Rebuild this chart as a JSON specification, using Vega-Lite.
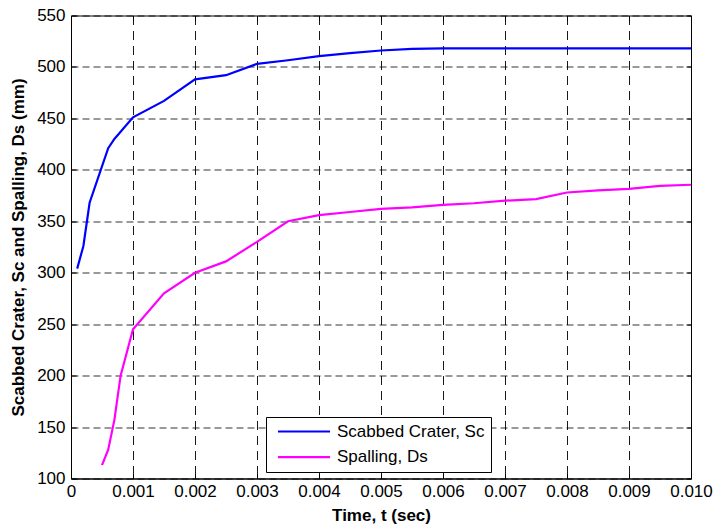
{
  "$schema": "https://vega.github.io/schema/vega-lite/v6.json",
  "width": 620,
  "height": 463,
  "autosize": {"type": "none"},
  "padding": {"left": 71, "top": 15.5, "right": 24, "bottom": 49.5},
  "background": "white",
  "config": {
    "font": "Liberation Sans",
    "view": {"stroke": "#000000", "strokeWidth": 1},
    "axis": {
      "labelFont": "Liberation Sans",
      "labelFontSize": 17,
      "labelColor": "#000000",
      "titleFont": "Liberation Sans",
      "titleFontSize": 17,
      "titleFontWeight": "bold",
      "titleColor": "#000000",
      "domainColor": "#000000",
      "tickColor": "#000000",
      "tickSize": -5,
      "gridColor": "#000000",
      "gridOpacity": 0.8
    },
    "legend": {
      "labelFont": "Liberation Sans",
      "labelFontSize": 17,
      "labelColor": "#000000"
    }
  },
  "data": {
    "values": [
      {"t": 0.0001, "d": 304, "series": "Scabbed Crater, Sc"},
      {"t": 0.0002, "d": 326, "series": "Scabbed Crater, Sc"},
      {"t": 0.0003, "d": 368, "series": "Scabbed Crater, Sc"},
      {"t": 0.0006, "d": 421, "series": "Scabbed Crater, Sc"},
      {"t": 0.0007, "d": 430, "series": "Scabbed Crater, Sc"},
      {"t": 0.001, "d": 451, "series": "Scabbed Crater, Sc"},
      {"t": 0.0015, "d": 467, "series": "Scabbed Crater, Sc"},
      {"t": 0.002, "d": 488, "series": "Scabbed Crater, Sc"},
      {"t": 0.0025, "d": 492, "series": "Scabbed Crater, Sc"},
      {"t": 0.003, "d": 503, "series": "Scabbed Crater, Sc"},
      {"t": 0.0035, "d": 506.5, "series": "Scabbed Crater, Sc"},
      {"t": 0.004, "d": 510.5, "series": "Scabbed Crater, Sc"},
      {"t": 0.0045, "d": 513.5, "series": "Scabbed Crater, Sc"},
      {"t": 0.005, "d": 516, "series": "Scabbed Crater, Sc"},
      {"t": 0.0055, "d": 517.5, "series": "Scabbed Crater, Sc"},
      {"t": 0.006, "d": 518, "series": "Scabbed Crater, Sc"},
      {"t": 0.007, "d": 518, "series": "Scabbed Crater, Sc"},
      {"t": 0.008, "d": 518, "series": "Scabbed Crater, Sc"},
      {"t": 0.009, "d": 518, "series": "Scabbed Crater, Sc"},
      {"t": 0.01, "d": 518, "series": "Scabbed Crater, Sc"},
      {"t": 0.0005, "d": 113, "series": "Spalling, Ds"},
      {"t": 0.0006, "d": 128, "series": "Spalling, Ds"},
      {"t": 0.0007, "d": 157, "series": "Spalling, Ds"},
      {"t": 0.0008, "d": 200, "series": "Spalling, Ds"},
      {"t": 0.001, "d": 245, "series": "Spalling, Ds"},
      {"t": 0.0015, "d": 280, "series": "Spalling, Ds"},
      {"t": 0.002, "d": 300, "series": "Spalling, Ds"},
      {"t": 0.0025, "d": 311, "series": "Spalling, Ds"},
      {"t": 0.003, "d": 330, "series": "Spalling, Ds"},
      {"t": 0.0035, "d": 350, "series": "Spalling, Ds"},
      {"t": 0.004, "d": 356, "series": "Spalling, Ds"},
      {"t": 0.0045, "d": 359, "series": "Spalling, Ds"},
      {"t": 0.005, "d": 362, "series": "Spalling, Ds"},
      {"t": 0.0055, "d": 363.5, "series": "Spalling, Ds"},
      {"t": 0.006, "d": 366, "series": "Spalling, Ds"},
      {"t": 0.0065, "d": 367.5, "series": "Spalling, Ds"},
      {"t": 0.007, "d": 370, "series": "Spalling, Ds"},
      {"t": 0.0075, "d": 371.5, "series": "Spalling, Ds"},
      {"t": 0.008, "d": 378, "series": "Spalling, Ds"},
      {"t": 0.0085, "d": 380, "series": "Spalling, Ds"},
      {"t": 0.009, "d": 381.5, "series": "Spalling, Ds"},
      {"t": 0.0095, "d": 384.5, "series": "Spalling, Ds"},
      {"t": 0.01, "d": 385.5, "series": "Spalling, Ds"}
    ]
  },
  "layer": [
    {
      "mark": {"type": "line", "strokeWidth": 2.2, "clip": true},
      "encoding": {
        "x": {
          "field": "t",
          "type": "quantitative",
          "scale": {"domain": [0, 0.01], "nice": false, "zero": false},
          "axis": {
            "orient": "bottom",
            "title": "Time, t (sec)",
            "values": [0, 0.001, 0.002, 0.003, 0.004, 0.005, 0.006, 0.007, 0.008, 0.009, 0.01],
            "labelExpr": "datum.value == 0 ? '0' : format(datum.value, '.3f')",
            "labelPadding": 10,
            "labelFlush": false,
            "labelOverlap": false,
            "titlePadding": 8,
            "grid": true,
            "gridOpacity": 0.9,
            "gridDash": [9, 6]
          }
        },
        "y": {
          "field": "d",
          "type": "quantitative",
          "scale": {"domain": [100, 550], "nice": false, "zero": false},
          "axis": {
            "orient": "left",
            "title": "Scabbed Crater, Sc and Spalling, Ds (mm)",
            "values": [100, 150, 200, 250, 300, 350, 400, 450, 500, 550],
            "labelPadding": 11,
            "labelFlush": false,
            "labelOverlap": false,
            "titlePadding": 9,
            "grid": true,
            "gridDash": [7, 4]
          }
        },
        "color": {
          "field": "series",
          "type": "nominal",
          "scale": {
            "domain": ["Scabbed Crater, Sc", "Spalling, Ds"],
            "range": ["#0000ff", "#ff00ff"]
          },
          "legend": {
            "title": null,
            "orient": "none",
            "legendX": 195,
            "legendY": 401.5,
            "symbolType": "M-4,0H4",
            "symbolSize": 169,
            "symbolStrokeWidth": 2.2,
            "symbolOffset": 23.5,
            "labelOffset": 24.5,
            "rowPadding": 7.6,
            "padding": 6,
            "strokeColor": "#000000",
            "fillColor": "#ffffff"
          }
        }
      }
    },
    {
      "mark": {"type": "line", "strokeOpacity": 0},
      "encoding": {
        "x": {
          "field": "t",
          "type": "quantitative",
          "axis": {
            "orient": "top",
            "title": null,
            "labels": false,
            "domain": false,
            "grid": false,
            "values": [0, 0.001, 0.002, 0.003, 0.004, 0.005, 0.006, 0.007, 0.008, 0.009, 0.01]
          }
        },
        "y": {
          "field": "d",
          "type": "quantitative",
          "axis": {
            "orient": "right",
            "title": null,
            "labels": false,
            "domain": false,
            "grid": false,
            "values": [100, 150, 200, 250, 300, 350, 400, 450, 500, 550]
          }
        },
        "detail": {"field": "series", "type": "nominal"}
      }
    }
  ],
  "resolve": {"axis": {"x": "independent", "y": "independent"}}
}
